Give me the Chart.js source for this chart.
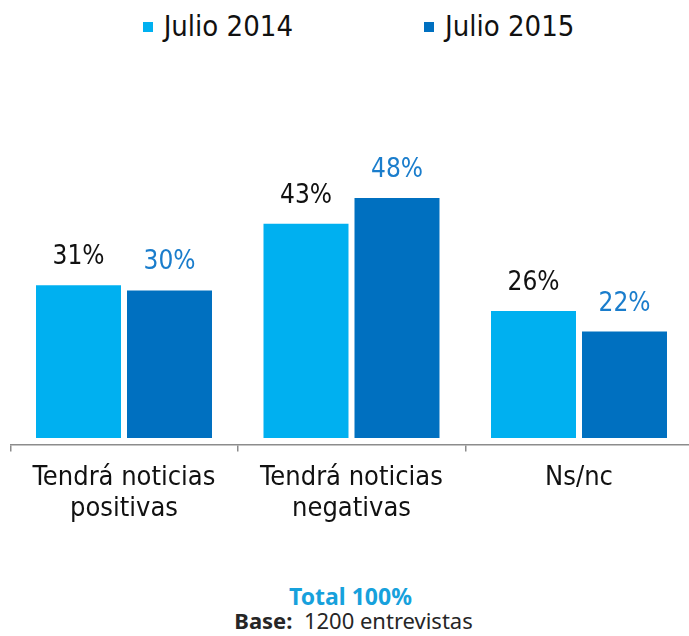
<!DOCTYPE html>
<html>
<head>
<meta charset="utf-8">
<script src="https://cdn.jsdelivr.net/npm/chart.js@4.4.1/dist/chart.umd.min.js"></script>
<style>
	body { margin: 0; width: 689px; height: 636px; overflow: hidden; position: relative; background: #fff; }
	#myChart { position: absolute; left: 0; top: 0; }
	#legend { position: absolute; top: 12px; left: 14px; width: 689px; display: flex; justify-content: center; gap: 131px;
		font-family: "DejaVu Sans Condensed", "Liberation Sans Narrow", sans-serif; font-size: 29px; line-height: 29px; color: #111; }
	#legend .item { display: flex; align-items: center; }
	#legend .box { width: 10px; height: 10px; margin-right: 11px; }
	.foot { position: absolute; left: 6px; width: 689px; text-align: center; font-family: "Noto Sans", sans-serif; }
</style>
</head>
<body>
<div id="legend"></div>
<canvas id="myChart" width="694" height="560"></canvas>
<div class="foot" style="top:585px; font-size:23px; line-height:23px; font-weight:bold; color:#17a1dc;">Total 100%</div>
<div class="foot" style="top:609px; font-size:22px; line-height:22px; color:#262626; left:9px;"><b>Base:</b>&nbsp; 1200 entrevistas</div>
<script>
const categories = [["Tendrá noticias", "positivas"], ["Tendrá noticias", "negativas"], "Ns/nc"];
const seriesNames = ["Julio 2014", "Julio 2015"];
const julio2014 = [31, 43, 26];
const julio2015 = [30, 48, 22];

const barColors = ["#00b0f0", "#0070c0"];
const labelColors = ["#111111", "#1a7dcc"];

// value labels above each bar
const valueLabels = {
	id: "valueLabels",
	afterDatasetsDraw(chart) {
		const ctx = chart.ctx;
		ctx.save();
		ctx.font = '26px "DejaVu Sans Condensed", sans-serif';
		ctx.textAlign = "center";
		ctx.textBaseline = "alphabetic";
		chart.data.datasets.forEach((ds, i) => {
			const meta = chart.getDatasetMeta(i);
			ctx.fillStyle = labelColors[i];
			meta.data.forEach((bar, j) => {
				ctx.fillText(ds.data[j] + "%", bar.x, bar.y - 21);
			});
		});
		ctx.restore();
	}
};

const chart = new Chart("myChart", {
	type: "bar",
	data: {
		labels: categories,
		datasets: [
			{ label: seriesNames[0], data: julio2014, backgroundColor: barColors[0], base: 1.25 },
			{ label: seriesNames[1], data: julio2015, backgroundColor: barColors[1], base: 1.25 }
		]
	},
	options: {
		responsive: false,
		animation: false,
		categoryPercentage: 0.8,
		barPercentage: 0.934,
		layout: { padding: { top: 136.5, left: 10.25, right: 1.25, bottom: 24.5 } },
		plugins: {
			legend: { display: false },
			tooltip: { enabled: false }
		},
		scales: {
			y: { display: false, min: 0, max: 60 },
			x: {
				grid: { display: true, drawOnChartArea: false, drawTicks: true, tickLength: 7, color: "#8c8c8c", lineWidth: 1.5 },
				border: { display: true, color: "#8c8c8c", width: 1.5 },
				ticks: {
					color: "#111",
					padding: 11,
					font: { family: '"DejaVu Sans Condensed", "Liberation Sans Narrow", sans-serif', size: 27, lineHeight: 1.15 }
				}
			}
		}
	},
	plugins: [valueLabels]
});

const legend = document.getElementById("legend");
chart.data.datasets.forEach(ds => {
	const item = document.createElement("div");
	item.className = "item";
	item.innerHTML = `<span class="box" style="background:${ds.backgroundColor}"></span><span>${ds.label}</span>`;
	legend.appendChild(item);
});
</script>
</body>
</html>
